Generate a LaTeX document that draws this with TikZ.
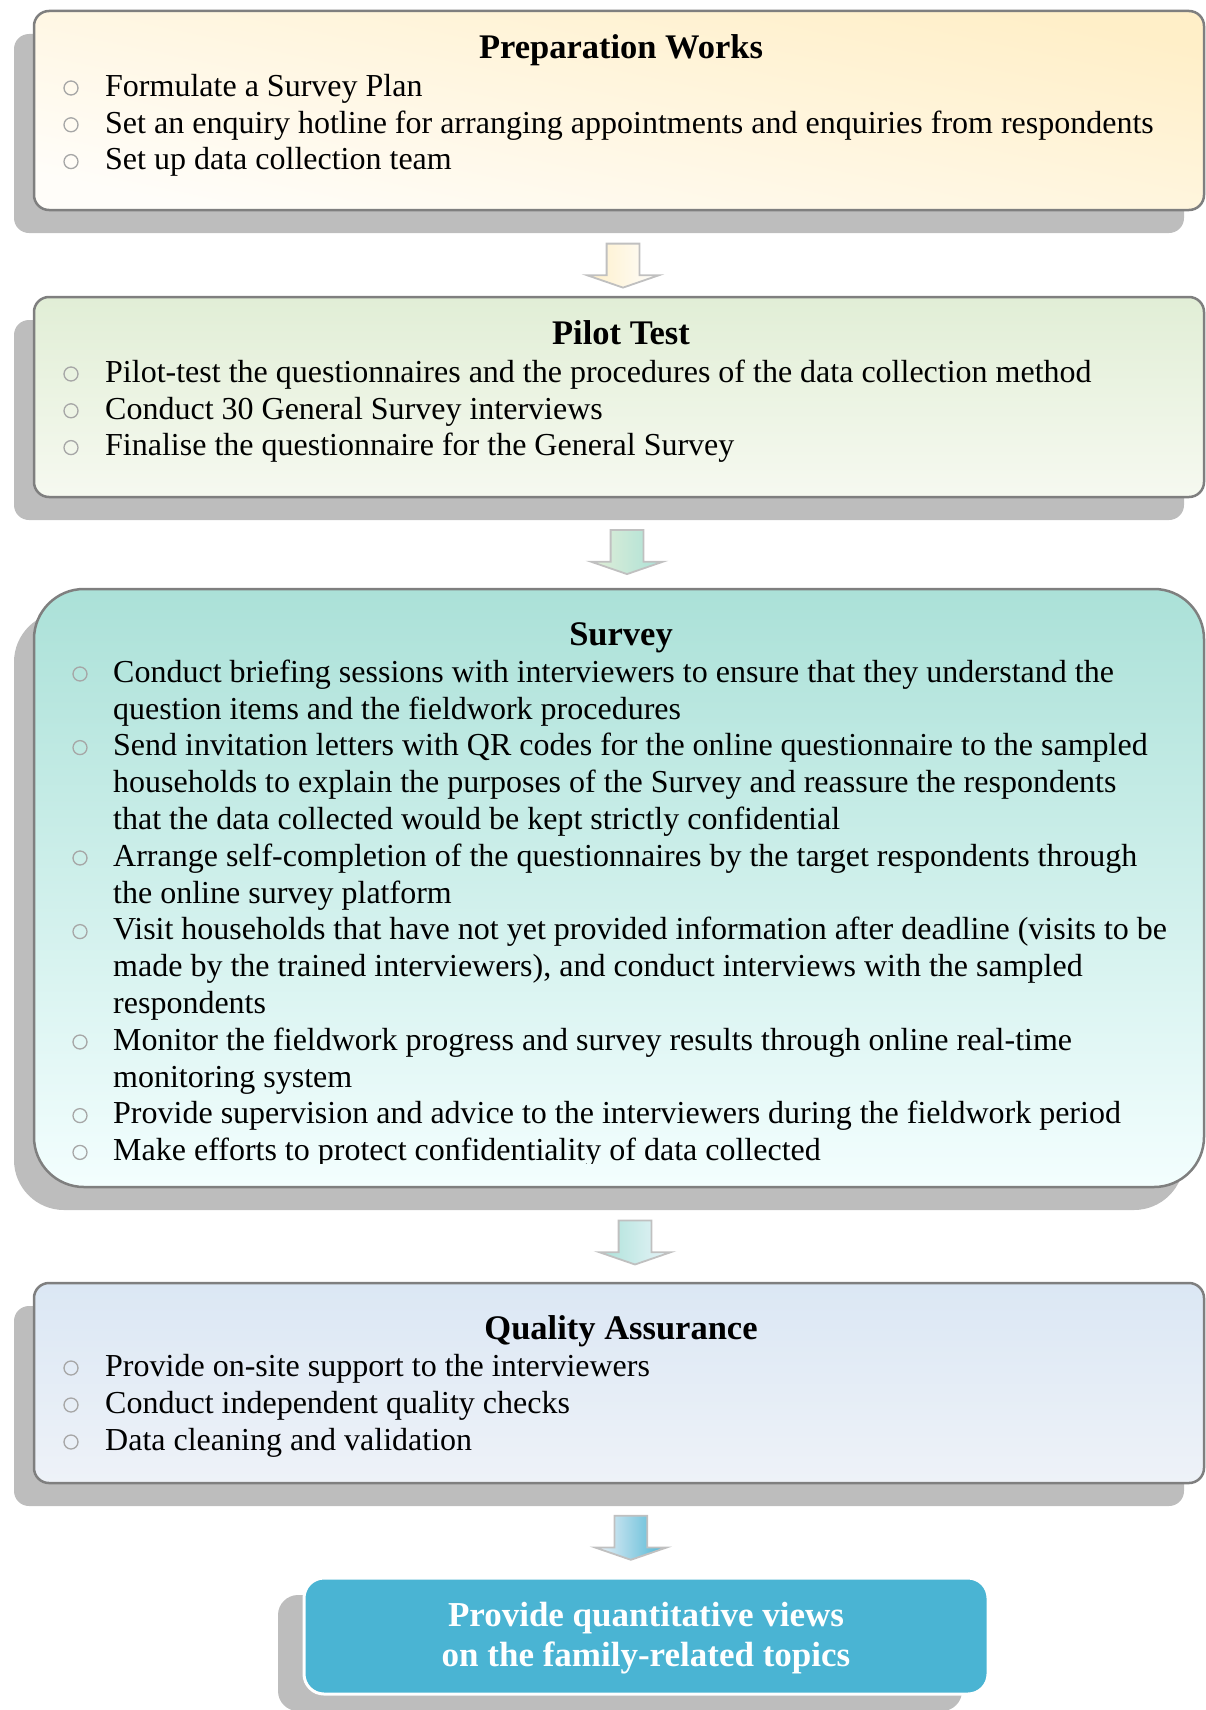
\documentclass[tikz,border=0pt]{standalone}
\usepackage{fontspec}
\setmainfont{Liberation Serif}
\usetikzlibrary{shapes.arrows,shadows}

\begin{document}
\begin{tikzpicture}[x=1pt,y=-1pt,
    stagebox/.style={draw=box_line,line width=2.5pt,rounded corners=15pt,inner sep=0,
      minimum width=1170pt,
      drop shadow={shadow xshift=-20pt,shadow yshift=-23pt,fill=shadow_gray,opacity=1}},
    flowarrow/.style={single arrow,rotate=-90,inner xsep=0,inner ysep=15.5pt,
      minimum height=44pt,minimum width=70pt,single arrow head extend=19.5pt,
      single arrow tip angle=142,draw=arrow_line,line width=1.8pt},
    bulletmark/.style={circle,draw=bullet_gray,line width=1.3pt,minimum size=14pt,inner sep=0},
    itemtext/.style={anchor=mid west,inner sep=0,font=\fontsize{32}{37}\selectfont},
    titletext/.style={anchor=mid,inner sep=0,font=\fontsize{34.5}{40}\selectfont\bfseries}]
    \definecolor{box_line}{HTML}{7F7F7F}
    \definecolor{shadow_gray}{HTML}{BDBDBD}
    \definecolor{arrow_line}{HTML}{C0C0C0}
    \definecolor{bullet_gray}{HTML}{A6A6A6}
    \definecolor{prep_top}{HTML}{FFEFC8}
    \definecolor{prep_bottom}{HTML}{FFFDF9}
    \definecolor{pilot_top}{HTML}{E1EED6}
    \definecolor{pilot_bottom}{HTML}{F6F9F0}
    \definecolor{survey_top}{HTML}{ABE1D8}
    \definecolor{survey_bottom}{HTML}{F3FEFE}
    \definecolor{qa_top}{HTML}{DBE7F4}
    \definecolor{qa_bottom}{HTML}{EEF2F8}
    \definecolor{final_blue}{HTML}{4AB4D3}
    \useasboundingbox (0,0) rectangle (1205,1710);

    % stage boxes
    \node[stagebox,minimum height=199pt,top color=prep_top,bottom color=prep_bottom,shading angle=-12] (prep) at (619,110.5) {};
    \node[stagebox,minimum height=200pt,top color=pilot_top,bottom color=pilot_bottom] (pilot) at (619,397) {};
    \node[stagebox,minimum height=598pt,rounded corners=50pt,top color=survey_top,bottom color=survey_bottom] (survey) at (619,888) {};
    \node[stagebox,minimum height=200pt,top color=qa_top,bottom color=qa_bottom] (qa) at (619,1383) {};
    \node[rounded corners=20pt,fill=final_blue,draw=white,line width=3pt,inner sep=0,
      minimum width=684pt,minimum height=116pt,
      drop shadow={shadow xshift=-26pt,shadow yshift=-17pt,fill=shadow_gray,opacity=1}] (final) at (646,1636) {};

    % arrows between the stages
    \path (prep.south) -- (pilot.north) node[xshift=4pt,pos=0.61,flowarrow,left color=prep_top,right color=pilot_top!92!black!4] (arr1) {};
    \path (pilot.south) -- (survey.north) node[xshift=8pt,pos=0.57,flowarrow,left color=pilot_top,right color=survey_top] (arr2) {};
    \path (survey.south) -- (qa.north) node[xshift=16pt,pos=0.55,flowarrow,left color=survey_top,right color=survey_bottom!60!qa_top] (arr3) {};
    \path (qa.south) -- (final.north) node[xshift=-3pt,pos=0.55,flowarrow,left color=qa_bottom,right color=final_blue] (arr4) {};

    % Preparation Works
    \node[titletext] (prep_title) at (621,56) {Preparation Works};
    \node[bulletmark] (prep_b1) at (71,88) {};\node[itemtext] (prep_t1) at (105,94) {Formulate a Survey Plan};
    \node[bulletmark] (prep_b2) at (71,124.8) {};\node[itemtext] (prep_t2) at (105,130.8) {Set an enquiry hotline for arranging appointments and enquiries from respondents};
    \node[bulletmark] (prep_b3) at (71,161.6) {};\node[itemtext] (prep_t3) at (105,167.6) {Set up data collection team};

    % Pilot Test
    \node[titletext] (pilot_title) at (621,342) {Pilot Test};
    \node[bulletmark] (pilot_b1) at (71,374) {};\node[itemtext] (pilot_t1) at (105,380) {Pilot-test the questionnaires and the procedures of the data collection method};
    \node[bulletmark] (pilot_b2) at (71,410.8) {};\node[itemtext] (pilot_t2) at (105,416.8) {Conduct 30 General Survey interviews};
    \node[bulletmark] (pilot_b3) at (71,447.6) {};\node[itemtext] (pilot_t3) at (105,453.6) {Finalise the questionnaire for the General Survey};

    % Survey
    \node[titletext] (survey_title) at (621,643) {Survey};
    \node[bulletmark] (survey_b1) at (80,674) {};\node[itemtext] (survey_t1) at (113,680) {Conduct briefing sessions with interviewers to ensure that they understand the};
    \node[itemtext] (survey_t2) at (113,716.8) {question items and the fieldwork procedures};
    \node[bulletmark] (survey_b3) at (80,747.6) {};\node[itemtext] (survey_t3) at (113,753.6) {Send invitation letters with QR codes for the online questionnaire to the sampled};
    \node[itemtext] (survey_t4) at (113,790.4) {households to explain the purposes of the Survey and reassure the respondents};
    \node[itemtext] (survey_t5) at (113,827.2) {that the data collected would be kept strictly confidential};
    \node[bulletmark] (survey_b6) at (80,858) {};\node[itemtext] (survey_t6) at (113,864) {Arrange self-completion of the questionnaires by the target respondents through};
    \node[itemtext] (survey_t7) at (113,900.8) {the online survey platform};
    \node[bulletmark] (survey_b8) at (80,931.6) {};\node[itemtext] (survey_t8) at (113,937.6) {Visit households that have not yet provided information after deadline (visits to be};
    \node[itemtext] (survey_t9) at (113,974.4) {made by the trained interviewers), and conduct interviews with the sampled};
    \node[itemtext] (survey_t10) at (113,1011.2) {respondents};
    \node[bulletmark] (survey_b11) at (80,1042) {};\node[itemtext] (survey_t11) at (113,1048) {Monitor the fieldwork progress and survey results through online real-time};
    \node[itemtext] (survey_t12) at (113,1084.8) {monitoring system};
    \node[bulletmark] (survey_b13) at (80,1115.6) {};\node[itemtext] (survey_t13) at (113,1121.6) {Provide supervision and advice to the interviewers during the fieldwork period};
    \node[bulletmark] (survey_b14) at (80,1152.4) {};
    \begin{scope}
      \clip (0,0) rectangle (1205,1163);
      \node[itemtext] (survey_t14) at (113,1158.4) {Make efforts to protect confidentiality of data collected};
    \end{scope}

    % Quality Assurance
    \node[titletext] (qa_title) at (621,1337) {Quality Assurance};
    \node[bulletmark] (qa_b1) at (71,1368) {};\node[itemtext] (qa_t1) at (105,1374) {Provide on-site support to the interviewers};
    \node[bulletmark] (qa_b2) at (71,1405) {};\node[itemtext] (qa_t2) at (105,1411) {Conduct independent quality checks};
    \node[bulletmark] (qa_b3) at (71,1442) {};\node[itemtext] (qa_t3) at (105,1448) {Data cleaning and validation};

    % outcome
    \node[anchor=mid,inner sep=0,text=white,font=\fontsize{35}{40}\selectfont\bfseries] (final_text) at (646,1624) {Provide quantitative views};
    \node[anchor=mid,inner sep=0,text=white,font=\fontsize{35}{40}\selectfont\bfseries] (final_text2) at (646,1664) {on the family-related topics};
\end{tikzpicture}
\end{document}
